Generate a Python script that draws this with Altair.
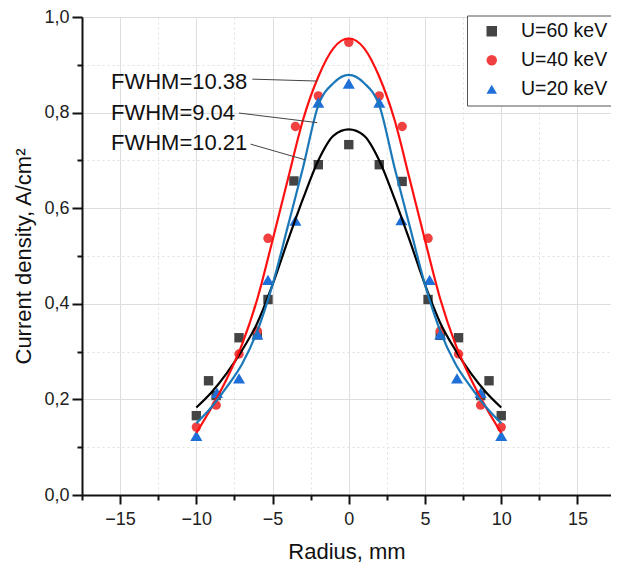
import altair as alt
import pandas as pd

# ---------------- data ----------------
series_names = ["U=60 keV", "U=40 keV", "U=20 keV"]
marker_colors = ["#444444", "#f04040", "#1f6fd8"]
marker_shapes = ["square", "circle", "triangle-up"]
curve_colors = ["#000000", "#ff1010", "#1a78b8"]

# measured points
x60 = [-10, -9.2, -8.7, -7.2, -6.0, -5.3, -3.6, -2.0, 0, 2.0, 3.5, 5.2, 6.0, 7.2, 8.65, 9.2, 10]
y60 = [0.166, 0.239, 0.208, 0.329, 0.335, 0.409, 0.657, 0.691, 0.733, 0.691, 0.656, 0.409, 0.334, 0.329, 0.208, 0.239, 0.166]
x40 = [-10, -8.7, -7.2, -6.0, -5.3, -3.5, -2.0, 0, 2.0, 3.5, 5.2, 6.0, 7.2, 8.65, 10]
y40 = [0.142, 0.188, 0.295, 0.343, 0.537, 0.771, 0.835, 0.947, 0.835, 0.771, 0.537, 0.343, 0.295, 0.188, 0.142]
x20 = [-10, -8.65, -7.2, -6.0, -5.3, -3.5, -2.0, 0, 2.0, 3.45, 5.3, 6.0, 7.1, 8.65, 10]
y20 = [0.124, 0.214, 0.244, 0.336, 0.450, 0.574, 0.821, 0.861, 0.821, 0.575, 0.450, 0.336, 0.244, 0.214, 0.124]

# fitted curves
xfit = [-10, -9, -8, -7, -6, -5, -4, -3, -2, -1, 0, 1, 2, 3, 4, 5, 6, 7, 8, 9, 10]
fit60 = [0.183, 0.215, 0.255, 0.303, 0.360, 0.440, 0.532, 0.620, 0.700, 0.752, 0.765,
         0.752, 0.700, 0.620, 0.532, 0.440, 0.360, 0.303, 0.255, 0.215, 0.183]
fit40 = [0.130, 0.183, 0.243, 0.315, 0.410, 0.533, 0.660, 0.785, 0.875, 0.935, 0.955,
         0.935, 0.875, 0.785, 0.660, 0.533, 0.410, 0.315, 0.243, 0.183, 0.130]
fit20 = [0.150, 0.184, 0.226, 0.274, 0.343, 0.440, 0.562, 0.685, 0.815, 0.862, 0.879,
         0.862, 0.815, 0.685, 0.562, 0.440, 0.343, 0.274, 0.226, 0.184, 0.150]

fwhm_labels = ["FWHM=10.38", "FWHM=9.04", "FWHM=10.21"]

# axis tick values
x_major = [-15, -10, -5, 0, 5, 10, 15]
x_minor = [-17.5, -12.5, -7.5, -2.5, 2.5, 7.5, 12.5]
x_minor_grid = [-12.5, -7.5, -2.5, 2.5, 7.5, 12.5]
y_major = [0.0, 0.2, 0.4, 0.6, 0.8, 1.0]
y_major_grid = [0.2, 0.4, 0.6, 0.8]
y_minor = [0.1, 0.3, 0.5, 0.7, 0.9]

# ---------------- tables ----------------
pts = pd.concat([
    pd.DataFrame({"r": x60, "j": y60, "series": series_names[0]}),
    pd.DataFrame({"r": x40, "j": y40, "series": series_names[1]}),
    pd.DataFrame({"r": x20, "j": y20, "series": series_names[2]}),
], ignore_index=True)

fits = pd.concat([
    pd.DataFrame({"r": xfit, "j": fit60, "series": series_names[0]}),
    pd.DataFrame({"r": xfit, "j": fit40, "series": series_names[1]}),
    pd.DataFrame({"r": xfit, "j": fit20, "series": series_names[2]}),
], ignore_index=True)

# annotation placement (text anchor and leader line ends)
ann = pd.DataFrame({
    "label": fwhm_labels,
    "tx": [-15.6, -15.6, -15.6],
    "ty": [0.865, 0.800, 0.736],
    "lx": [-6.33, -7.2, -6.44],
    "ly": [0.870, 0.799, 0.734],
    "lx2": [-2.07, -2.07, -2.84],
    "ly2": [0.866, 0.779, 0.701],
})

FONT = "Liberation Sans"
xscale = alt.Scale(domain=[-17.5, 17.2], nice=False, zero=False)
yscale = alt.Scale(domain=[0, 1], nice=False, zero=False)
comma = "replace(format(datum.value, '.1f'), '.', ',')"

grid_major_x = alt.Axis(orient="bottom", values=x_major, grid=True, gridColor="#dedede", gridWidth=1,
                        ticks=False, labels=False, domain=False, title=None)
grid_major_y = alt.Axis(orient="left", values=y_major_grid, grid=True, gridColor="#dedede", gridWidth=1,
                        ticks=False, labels=False, domain=False, title=None)
grid_minor_x = alt.Axis(orient="bottom", values=x_minor_grid, grid=True, gridColor="#e0e0e0", gridWidth=1,
                        gridDash=[2, 3], ticks=False, labels=False, domain=False, title=None)
grid_minor_y = alt.Axis(orient="left", values=y_minor, grid=True, gridColor="#e0e0e0", gridWidth=1,
                        gridDash=[2, 3], ticks=False, labels=False, domain=False, title=None)
main_x = alt.Axis(orient="bottom", values=x_major, grid=False, tickSize=9, tickWidth=2, tickColor="#111",
                  domainColor="#111", domainWidth=2, labelFontSize=18, labelFont=FONT,
                  labelColor="#222", labelPadding=6, title="Radius, mm", titleFont=FONT,
                  titleFontSize=22, titleFontWeight="normal", titleColor="#111",
                  titlePadding=13)
main_y = alt.Axis(orient="left", values=y_major, grid=False, tickSize=10, tickWidth=2, tickColor="#111",
                  domainColor="#111", domainWidth=2, labelFontSize=18, labelFont=FONT,
                  labelColor="#222", labelPadding=3, labelExpr=comma,
                  title="Current density, A/cm²", titleFont=FONT, titleFontSize=22,
                  titleFontWeight="normal", titleColor="#111", titlePadding=8)
minor_x = alt.Axis(orient="bottom", values=x_minor, grid=False, tickSize=5, tickWidth=2, tickColor="#111",
                   labels=False, domain=False, title=None)
minor_y = alt.Axis(orient="left", values=y_minor, grid=False, tickSize=5, tickWidth=2, tickColor="#111",
                   labels=False, domain=False, title=None)

base_pts = alt.Chart(pts)

def axis_layer(ax, ay):
    return base_pts.mark_point(opacity=0).encode(
        x=alt.X("r:Q", scale=xscale, axis=ax),
        y=alt.Y("j:Q", scale=yscale, axis=ay),
    )

l_grid1 = axis_layer(grid_major_x, grid_major_y)
l_grid2 = axis_layer(grid_minor_x, grid_minor_y)
l_main = axis_layer(main_x, main_y)
l_minor = axis_layer(minor_x, minor_y)

leg = alt.Legend(orient="none", legendX=385, legendY=-1.5, title=None,
                 padding=6, strokeColor="#555", fillColor="white",
                 symbolOffset=9, labelOffset=19.5, labelFontSize=19.5, labelFont=FONT,
                 labelColor="#111", rowPadding=8, symbolSize=110, symbolStrokeWidth=0)

color_enc = alt.Color("series:N", scale=alt.Scale(domain=series_names, range=marker_colors),
                      legend=leg, sort=series_names)
shape_enc = alt.Shape("series:N", scale=alt.Scale(domain=series_names, range=marker_shapes),
                      legend=leg, sort=series_names)

points_a = base_pts.transform_filter(
    alt.FieldOneOfPredicate(field="series", oneOf=series_names[:2])
).mark_point(filled=True, opacity=1, size=88).encode(
    x=alt.X("r:Q", scale=xscale, axis=None),
    y=alt.Y("j:Q", scale=yscale, axis=None),
    color=color_enc,
    shape=shape_enc,
)
points_b = base_pts.transform_filter(
    alt.FieldEqualPredicate(field="series", equal=series_names[2])
).mark_point(filled=True, opacity=1, size=145).encode(
    x=alt.X("r:Q", scale=xscale, axis=None),
    y=alt.Y("j:Q", scale=yscale, axis=None),
    color=color_enc,
    shape=shape_enc,
)

lines = alt.Chart(fits).mark_line(strokeWidth=2.2, interpolate="monotone").encode(
    x=alt.X("r:Q", scale=xscale, axis=None),
    y=alt.Y("j:Q", scale=yscale, axis=None),
    stroke=alt.Stroke("series:N", scale=alt.Scale(domain=series_names, range=curve_colors),
                      legend=None),
    detail="series:N",
)

leaders = alt.Chart(ann).mark_rule(color="#444", strokeWidth=1).encode(
    x=alt.X("lx:Q", scale=xscale, axis=None),
    y=alt.Y("ly:Q", scale=yscale, axis=None),
    x2="lx2:Q",
    y2="ly2:Q",
)

texts = alt.Chart(ann).mark_text(align="left", baseline="middle", fontSize=22,
                                 font=FONT, color="#111").encode(
    x=alt.X("tx:Q", scale=xscale, axis=None),
    y=alt.Y("ty:Q", scale=yscale, axis=None),
    text="label:N",
)

chart = alt.layer(l_grid1, l_grid2, l_minor, l_main, points_a, points_b, lines, leaders, texts).resolve_axis(
    x="independent", y="independent"
).properties(
    width=529,
    height=478,
    autosize=alt.AutoSizeParams(type="none"),
    padding={"left": 74, "top": 9, "right": 0, "bottom": 67},
).configure_view(strokeWidth=0).configure(background="white")

chart.save("out.html", embed_options={"renderer": "svg", "actions": False})
